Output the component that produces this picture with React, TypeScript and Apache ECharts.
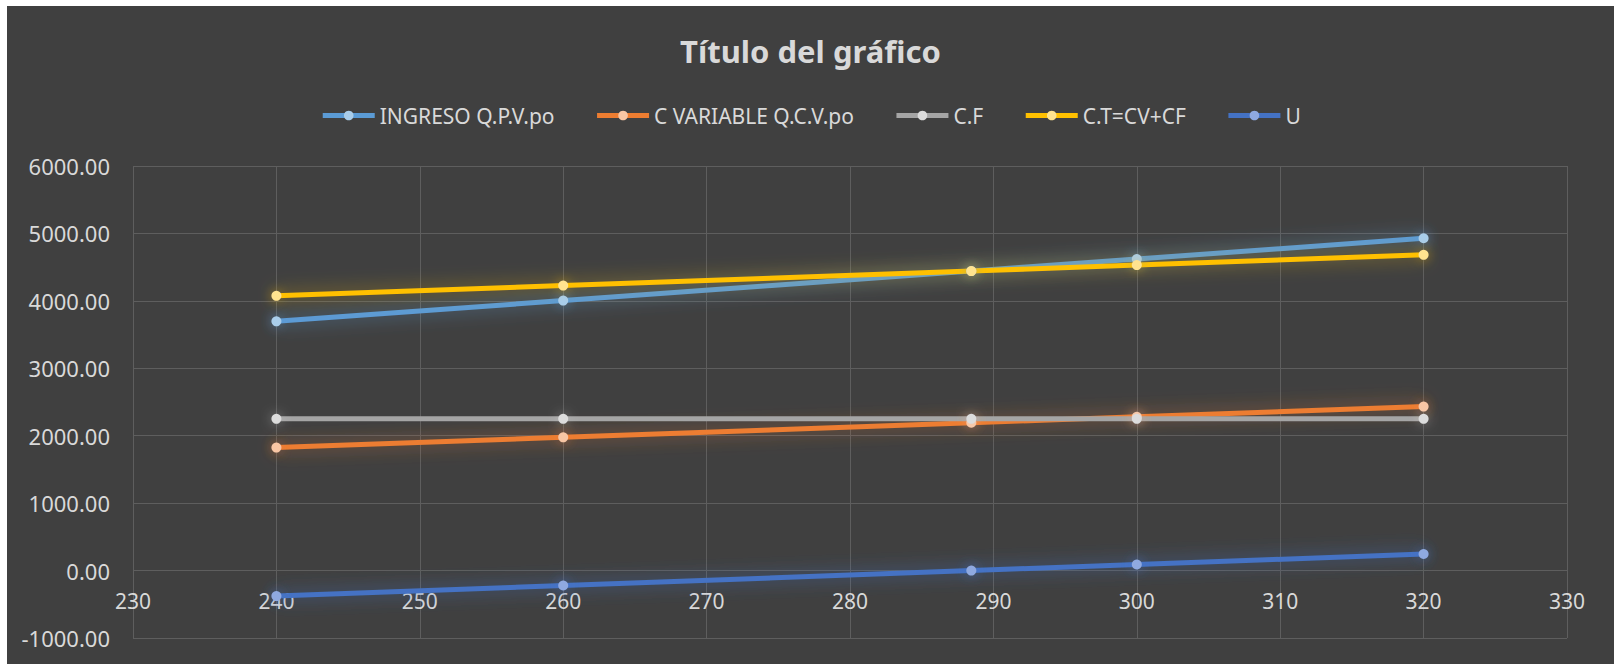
import React, { useEffect, useRef } from "react";
import * as echarts from "echarts";

const titleText = "Título del gráfico";
const xValues = [240, 260, 288.46, 300, 320];
const seriesNames = ["INGRESO Q.P.V.po", "C VARIABLE Q.C.V.po", "C.F", "C.T=CV+CF", "U"];
const ingreso = [3696, 4004, 4442, 4620, 4928];
const cVariable = [1824, 1976, 2192, 2280, 2432];
const cFijo = [2250, 2250, 2250, 2250, 2250];
const cTotal = [4074, 4226, 4442, 4530, 4682];
const utilidad = [-378, -222, 0, 90, 246];
const xTicks = { min: 230, max: 330, interval: 10 };
const yTicks = { min: -1000, max: 6000, interval: 1000 };
const lineColors = ["#5b9bd5", "#ed7d31", "#a5a5a5", "#ffc000", "#4472c4"];
const markerColors = ["#a9cdea", "#f8c6a4", "#dcdcdc", "#ffe38f", "#8fa9e0"];
const glowColors = [
  "rgba(91,155,213,0.7)",
  "rgba(237,125,49,0.6)",
  "rgba(220,220,220,0.45)",
  "rgba(255,192,0,0.55)",
  "rgba(68,114,196,0.75)",
];

const FONT = "'Noto Sans', sans-serif";
const GRID_TOP = 160;
const GRID_BOTTOM = 26;
const HEIGHT = 658;

export default function App() {
  const ref = useRef<HTMLDivElement>(null);
  useEffect(() => {
    if (!ref.current) return;
    const chart = echarts.init(ref.current, undefined, { renderer: "svg" });
    const allData = [ingreso, cVariable, cFijo, cTotal, utilidad];
    const gridH = HEIGHT - GRID_TOP - GRID_BOTTOM;
    // place the x axis where y = 0 sits on the value scale
    const zeroOffset = -gridH * ((0 - yTicks.min) / (yTicks.max - yTicks.min));
    chart.setOption({
      animation: false,
      backgroundColor: "#404040",
      textStyle: { fontFamily: FONT },
      title: {
        text: titleText,
        left: "center",
        top: 29,
        padding: 0,
        textStyle: { color: "#d9d9d9", fontSize: 31, fontWeight: "bold", fontFamily: FONT },
      },
      legend: {
        top: 94,
        left: "center",
        itemWidth: 52,
        itemHeight: 12,
        itemGap: 40,
        lineStyle: { width: 5 },
        textStyle: { color: "#d9d9d9", fontSize: 21, fontFamily: FONT },
        data: seriesNames,
      },
      grid: { left: 126, right: 47, top: GRID_TOP, bottom: GRID_BOTTOM, containLabel: false },
      xAxis: {
        type: "value",
        min: xTicks.min,
        max: xTicks.max,
        interval: xTicks.interval,
        offset: zeroOffset,
        axisLine: { show: false, onZero: false },
        axisTick: { show: false },
        axisLabel: { color: "#d9d9d9", fontSize: 21, margin: 20, fontFamily: FONT },
        splitLine: { show: true, lineStyle: { color: "#5e5e5e", width: 1 } },
      },
      yAxis: {
        type: "value",
        min: yTicks.min,
        max: yTicks.max,
        interval: yTicks.interval,
        axisLine: { show: false },
        axisTick: { show: false },
        axisLabel: {
          color: "#d9d9d9",
          fontSize: 22,
          margin: 23,
          fontFamily: FONT,
          formatter: (v: number) => v.toFixed(2),
        },
        splitLine: { show: true, lineStyle: { color: "#5e5e5e", width: 1 } },
      },
      series: seriesNames.map((name, i) => {
        const flat = new Set(allData[i]).size === 1;
        return {
          name,
          type: "line",
          data: xValues.map((x, j) => [x, allData[i][j]]),
          symbol: "circle",
          symbolSize: 10,
          showSymbol: true,
          lineStyle: flat
            ? { color: lineColors[i], width: 5 }
            : { color: lineColors[i], width: 5, shadowBlur: 18, shadowColor: glowColors[i] },
          itemStyle: {
            color: markerColors[i],
            borderWidth: 0,
            shadowBlur: 12,
            shadowColor: glowColors[i],
          },
        };
      }),
    });
    return () => chart.dispose();
  }, []);
  return (
    <div
      ref={ref}
      style={{ position: "fixed", left: 7, top: 6, width: 1607, height: HEIGHT }}
    />
  );
}
